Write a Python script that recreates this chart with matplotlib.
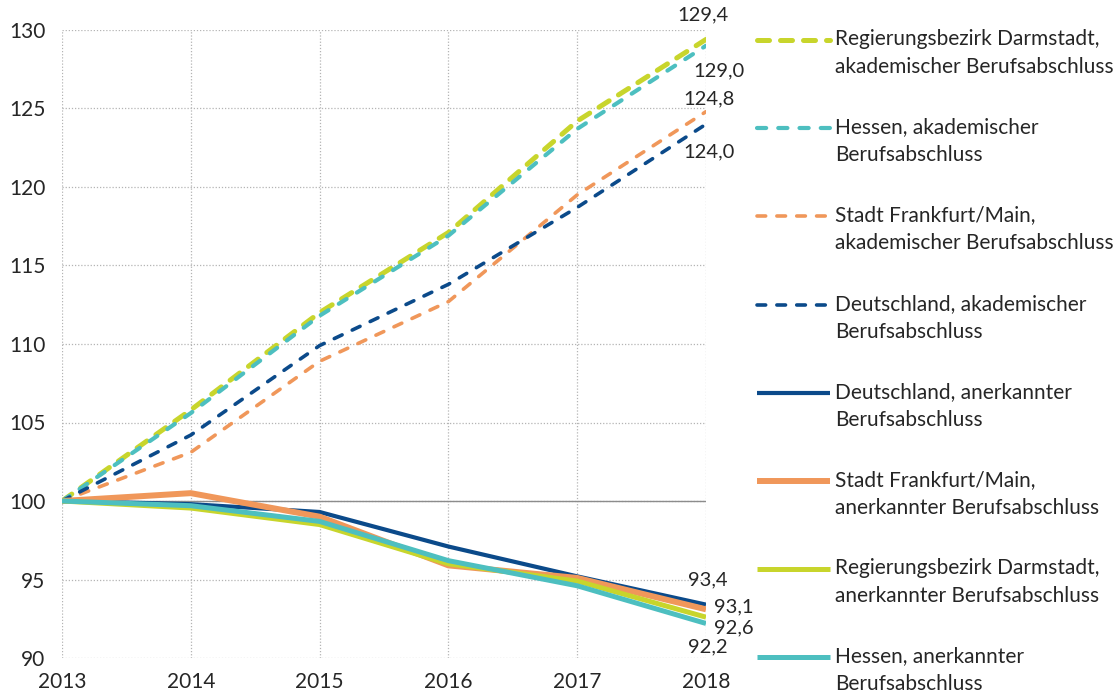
import matplotlib
matplotlib.use("Agg")
import matplotlib.pyplot as plt
from matplotlib.lines import Line2D
from matplotlib import rcParams

rcParams["font.family"] = ["Lato", "DejaVu Sans"]
rcParams["font.size"] = 15
rcParams["text.color"] = "#262626"
rcParams["xtick.color"] = "#262626"
rcParams["ytick.color"] = "#262626"

years = [2013, 2014, 2015, 2016, 2017, 2018]

# Index 2013 = 100
darmstadt_akad = [100, 105.8, 112.0, 117.1, 124.2, 129.4]
hessen_akad = [100, 105.6, 111.8, 116.9, 123.7, 129.0]
frankfurt_akad = [100, 103.1, 108.9, 112.7, 119.5, 124.8]
deutschland_akad = [100, 104.2, 109.9, 113.8, 118.7, 124.0]
deutschland_anerk = [100, 99.8, 99.3, 97.1, 95.2, 93.4]
frankfurt_anerk = [100, 100.5, 99.0, 95.9, 95.1, 93.1]
darmstadt_anerk = [100, 99.55, 98.5, 96.0, 94.9, 92.6]
hessen_anerk = [100, 99.7, 98.7, 96.2, 94.6, 92.2]

labels = [
    "Regierungsbezirk Darmstadt,\nakademischer Berufsabschluss",
    "Hessen, akademischer\nBerufsabschluss",
    "Stadt Frankfurt/Main,\nakademischer Berufsabschluss",
    "Deutschland, akademischer\nBerufsabschluss",
    "Deutschland, anerkannter\nBerufsabschluss",
    "Stadt Frankfurt/Main,\nanerkannter Berufsabschluss",
    "Regierungsbezirk Darmstadt,\nanerkannter Berufsabschluss",
    "Hessen, anerkannter\nBerufsabschluss",
]

GREEN = "#c8d52c"
TEAL = "#4dbfc0"
ORANGE = "#f0975a"
BLUE = "#0b4a8a"

W, H = 1116, 695
fig = plt.figure(figsize=(W / 100, H / 100), dpi=100)
ax = fig.add_axes([62 / W, 37 / H, 644 / W, 628 / H])

# reference line at 100
ax.axhline(100, color="#8c8c8c", lw=1.0, zorder=1)

series = [
    (darmstadt_akad, GREEN, 3.6, (2.4, 2.2)),
    (hessen_akad, TEAL, 3.0, (2.2, 2.9)),
    (frankfurt_akad, ORANGE, 2.6, (2.4, 3.1)),
    (deutschland_akad, BLUE, 2.6, (2.4, 3.1)),
    (deutschland_anerk, BLUE, 3.0, None),
    (frankfurt_anerk, ORANGE, 4.3, None),
    (darmstadt_anerk, GREEN, 3.6, None),
    (hessen_anerk, TEAL, 3.6, None),
]

for i, ((vals, col, lw, dash), lab) in enumerate(zip(series, labels)):
    style = dict(color=col, lw=lw)
    if dash is not None:
        style.update(dashes=dash, dash_capstyle="round")
    else:
        style.update(solid_capstyle="butt")
    ax.plot(years, vals, zorder=3, **style)

    # hand-made legend entry on the right
    y_top = 40 + 88.2 * i  # pixel row of the first text line
    yf = 1 - y_top / H
    fig.add_artist(Line2D([757 / W, 830 / W], [yf, yf],
                          transform=fig.transFigure, **style))
    fig.text(835 / W, 1 - (y_top - 11) / H, lab, ha="left", va="top",
             fontsize=15, linespacing=1.5)

# end value labels, offsets in points
end_labels = [
    (darmstadt_akad, (-2, 18)),
    (hessen_akad, (9, -18)),
    (frankfurt_akad, (2, 9)),
    (deutschland_akad, (2, -20)),
    (deutschland_anerk, (1, 18)),
    (frankfurt_anerk, (20, 2)),
    (darmstadt_anerk, (20, -7.5)),
    (hessen_anerk, (1, -17)),
]
for vals, off in end_labels:
    txt = f"{vals[-1]:.1f}".replace(".", ",")
    ax.annotate(txt, xy=(years[-1], vals[-1]), xytext=off,
                textcoords="offset points", ha="center", va="center",
                fontsize=14.5, zorder=5, annotation_clip=False)

ax.set_xlim(2013, 2018)
ax.set_ylim(90, 130)
ax.set_xticks(years)
ax.set_yticks(range(90, 131, 5))
ax.tick_params(length=0, labelsize=15)
ax.tick_params(axis="x", pad=10)
ax.tick_params(axis="y", pad=12)
ax.grid(True, color="#b4b4b4", ls=(0, (1, 1.5)), lw=0.9)
for s in ax.spines.values():
    s.set_visible(False)
ax.set_axisbelow(True)

fig.savefig("out.png", dpi=100)
